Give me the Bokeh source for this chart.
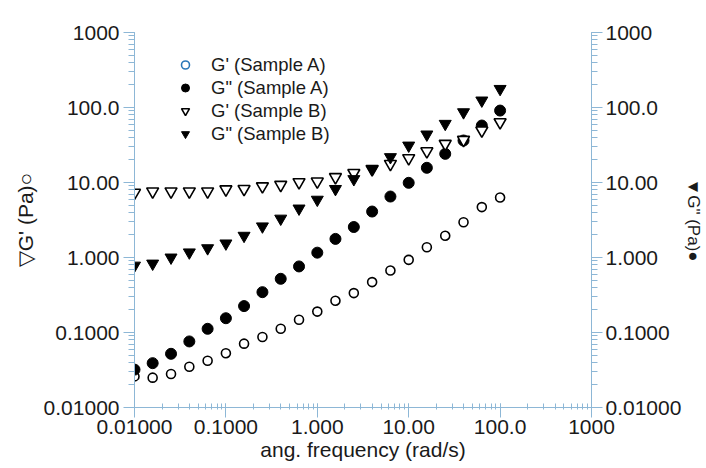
from bokeh.plotting import figure
from bokeh.models import (ColumnDataSource, Range1d, LogAxis, LogTicker,
                          CustomJSTickFormatter, Legend, LegendItem)
from bokeh.embed import file_html
from bokeh.resources import INLINE

# ---- data ----
freq = [0.01, 0.0158, 0.0251, 0.0398, 0.0631, 0.1, 0.158, 0.251, 0.398, 0.631,
        1.0, 1.58, 2.51, 3.98, 6.31, 10.0, 15.8, 25.1, 39.8, 63.1, 100.0]
g1_a = [0.026, 0.025, 0.028, 0.035, 0.042, 0.053, 0.071, 0.087, 0.112, 0.148,
        0.19, 0.265, 0.335, 0.47, 0.67, 0.93, 1.37, 1.95, 2.95, 4.7, 6.3]
g2_a = [0.032, 0.039, 0.052, 0.076, 0.112, 0.155, 0.225, 0.345, 0.52, 0.76,
        1.16, 1.77, 2.55, 4.1, 6.5, 9.9, 15.7, 24.1, 36.3, 57.5, 91.0]
g1_b = [7.3, 7.6, 7.6, 7.6, 7.6, 8.1, 8.2, 8.9, 9.3, 10.1,
        10.3, 11.8, 13.4, 15.1, 17.7, 21.1, 26.1, 32.8, 37.0, 49.4, 63.7]
g2_b = [0.78, 0.83, 1.0, 1.17, 1.33, 1.54, 1.95, 2.6, 3.3, 4.5,
        5.9, 8.2, 11.1, 15.1, 21.8, 31.1, 43.7, 60.6, 86.5, 124.0, 177.0]

tick_labels = ["0.01000", "0.1000", "1.000", "10.00", "100.0", "1000"]
legend_labels = ["G' (Sample A)", 'G" (Sample A)', "G' (Sample B)", 'G" (Sample B)']
x_label = "ang. frequency (rad/s)"
y_label_left = "\u25bdG' (Pa)\u25cb"
y_label_right = "\u25bcG\" (Pa)\u25cf"

FONT = "Liberation Sans"
AXIS_COLOR = "#8db7d6"
TXT = "#1a1a1a"

src = ColumnDataSource(dict(f=freq, g1a=g1_a, g2a=g2_a, g1b=g1_b, g2b=g2_b))

p = figure(width=706, height=468, x_axis_type="log", y_axis_type="log",
           x_range=Range1d(0.01, 1000), y_range=Range1d(0.01, 1000),
           output_backend="svg", toolbar_location=None,
           min_border_left=134, min_border_right=111,
           min_border_top=32, min_border_bottom=61)
p.outline_line_color = None
p.xgrid.visible = False
p.ygrid.visible = False
p.background_fill_color = "white"
p.border_fill_color = "white"

fmt = CustomJSTickFormatter(args=dict(labels=tick_labels), code="""
const i = Math.round(Math.log10(tick)) + 2;
return (i >= 0 && i < labels.length) ? labels[i] : "";
""")

right_axis = LogAxis(axis_label=y_label_right)
p.add_layout(right_axis, "right")

for ax in [p.xaxis[0], p.yaxis[0], right_axis]:
    ax.ticker = LogTicker(num_minor_ticks=10)
    ax.formatter = fmt
    ax.axis_line_color = AXIS_COLOR
    ax.major_tick_line_color = AXIS_COLOR
    ax.minor_tick_line_color = AXIS_COLOR
    ax.major_label_text_font = FONT
    ax.major_label_text_font_size = "21px"
    ax.major_label_text_color = TXT
    ax.axis_label_text_font = FONT
    ax.axis_label_text_font_size = "21px"
    ax.axis_label_text_font_style = "normal"
    ax.axis_label_text_color = TXT

xa = p.xaxis[0]
xa.axis_label = x_label
xa.major_tick_out = 10
xa.major_tick_in = 0
xa.minor_tick_in = 4
xa.minor_tick_out = 2
xa.major_label_standoff = 2
xa.axis_label_standoff = 1

ya = p.yaxis[0]
ya.axis_label = y_label_left
ya.major_tick_out = 11
ya.major_tick_in = 0
ya.minor_tick_out = 6
ya.minor_tick_in = 0
ya.major_label_standoff = 4
ya.axis_label_standoff = 4

right_axis.major_tick_out = 11
right_axis.major_tick_in = 0
right_axis.minor_tick_out = 6
right_axis.minor_tick_in = 0
right_axis.major_label_standoff = 3
right_axis.axis_label_standoff = 0
right_axis.axis_label_text_font_size = "17px"

r_g1a = p.scatter("f", "g1a", source=src, marker="circle", size=9,
                  fill_color="white", line_color="black", line_width=1.6)
r_g2a = p.scatter("f", "g2a", source=src, marker="circle", size=11,
                  fill_color="black", line_color="black")
r_g1b = p.scatter("f", "g1b", source=src, marker="inverted_triangle", size=12,
                  fill_color="white", line_color="black", line_width=1.6)
r_g2b = p.scatter("f", "g2b", source=src, marker="inverted_triangle", size=12,
                  fill_color="black", line_color="black")

# hidden legend proxy for the blue open circle shown in the reference legend
r_leg_a = p.scatter("f", "g1a", source=src, marker="circle", size=10,
                    fill_color="white", line_color="#2a78b8", line_width=1.6,
                    visible=False)

legend = Legend(items=[
    LegendItem(label=legend_labels[0], renderers=[r_leg_a]),
    LegendItem(label=legend_labels[1], renderers=[r_g2a]),
    LegendItem(label=legend_labels[2], renderers=[r_g1b]),
    LegendItem(label=legend_labels[3], renderers=[r_g2b]),
], location=(41, 262))
legend.background_fill_alpha = 0
legend.border_line_color = None
legend.label_text_font = FONT
legend.label_text_font_size = "18.5px"
legend.label_text_color = TXT
legend.glyph_width = 20
legend.glyph_height = 23
legend.label_height = 23
legend.label_standoff = 16
legend.spacing = 0
legend.padding = 0
legend.margin = 0
p.add_layout(legend, "center")

open("out.html", "w").write(file_html(p, INLINE))
